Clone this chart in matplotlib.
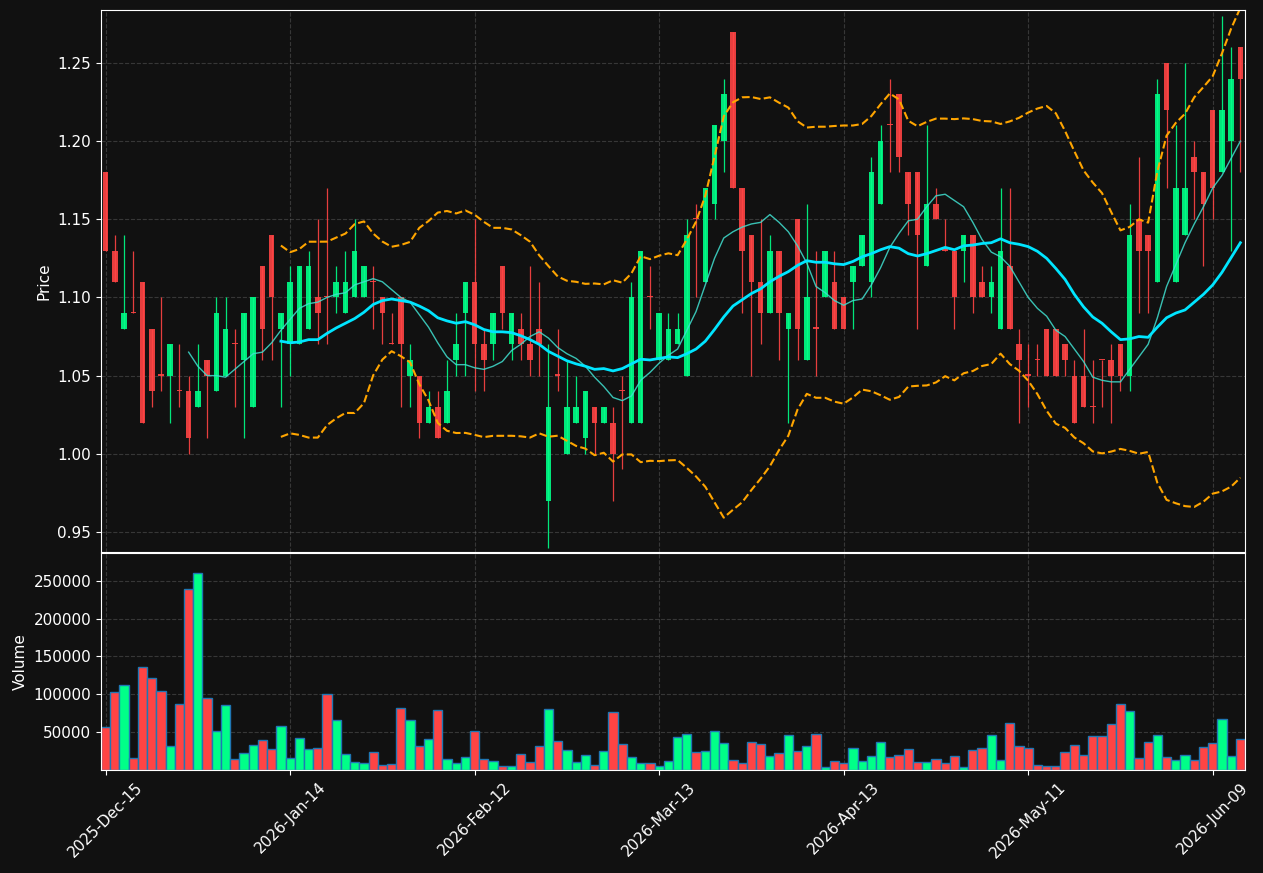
import numpy as np
import pandas as pd
import matplotlib
matplotlib.use('Agg')
import matplotlib.pyplot as plt

# OHLC (one bar per trading day)
opens = [1.18, 1.13, 1.08, 1.09, 1.11, 1.08, 1.05, 1.05, 1.04, 1.04,
         1.03, 1.06, 1.04, 1.05, 1.07, 1.06, 1.03, 1.12, 1.14, 1.08,
         1.07, 1.07, 1.08, 1.10, 1.10, 1.10, 1.09, 1.10, 1.10, 1.11,
         1.10, 1.07, 1.10, 1.05, 1.05, 1.02, 1.03, 1.02, 1.06, 1.09,
         1.11, 1.07, 1.07, 1.12, 1.07, 1.08, 1.07, 1.08, 0.97, 1.05,
         1.00, 1.02, 1.01, 1.03, 1.02, 1.02, 1.04, 1.02, 1.02, 1.10,
         1.06, 1.06, 1.07, 1.05, 1.15, 1.11, 1.16, 1.20, 1.27, 1.17,
         1.14, 1.11, 1.09, 1.13, 1.08, 1.15, 1.06, 1.08, 1.10, 1.11,
         1.10, 1.11, 1.12, 1.11, 1.16, 1.21, 1.23, 1.18, 1.18, 1.12,
         1.16, 1.13, 1.13, 1.13, 1.14, 1.11, 1.10, 1.08, 1.12, 1.07,
         1.05, 1.06, 1.08, 1.08, 1.07, 1.05, 1.05, 1.03, 1.06, 1.06,
         1.07, 1.05, 1.15, 1.14, 1.11, 1.25, 1.11, 1.14, 1.19, 1.18,
         1.22, 1.18, 1.20, 1.26]
highs = [1.18, 1.14, 1.14, 1.13, 1.11, 1.08, 1.10, 1.07, 1.07, 1.05,
         1.07, 1.06, 1.10, 1.10, 1.08, 1.09, 1.10, 1.12, 1.14, 1.09,
         1.12, 1.12, 1.13, 1.15, 1.17, 1.12, 1.13, 1.15, 1.12, 1.12,
         1.10, 1.09, 1.10, 1.07, 1.05, 1.04, 1.04, 1.06, 1.09, 1.11,
         1.15, 1.08, 1.09, 1.12, 1.09, 1.09, 1.12, 1.11, 1.07, 1.08,
         1.06, 1.05, 1.04, 1.03, 1.03, 1.03, 1.05, 1.11, 1.13, 1.12,
         1.09, 1.09, 1.09, 1.15, 1.16, 1.17, 1.21, 1.24, 1.27, 1.17,
         1.14, 1.15, 1.14, 1.13, 1.09, 1.15, 1.16, 1.13, 1.13, 1.13,
         1.10, 1.12, 1.14, 1.19, 1.21, 1.24, 1.23, 1.18, 1.18, 1.21,
         1.17, 1.15, 1.13, 1.14, 1.14, 1.12, 1.12, 1.17, 1.17, 1.08,
         1.07, 1.07, 1.08, 1.08, 1.07, 1.06, 1.08, 1.06, 1.06, 1.07,
         1.07, 1.16, 1.19, 1.14, 1.24, 1.25, 1.21, 1.25, 1.20, 1.18,
         1.22, 1.28, 1.26, 1.26]
lows = [1.13, 1.11, 1.08, 1.09, 1.02, 1.03, 1.04, 1.02, 1.03, 1.00,
        1.03, 1.01, 1.04, 1.05, 1.03, 1.01, 1.03, 1.06, 1.06, 1.03,
        1.05, 1.07, 1.08, 1.07, 1.07, 1.09, 1.09, 1.10, 1.10, 1.08,
        1.07, 1.07, 1.03, 1.03, 1.01, 1.02, 1.01, 1.02, 1.05, 1.05,
        1.04, 1.04, 1.06, 1.08, 1.06, 1.06, 1.05, 1.05, 0.94, 1.04,
        1.00, 1.02, 1.00, 1.00, 1.02, 0.97, 0.99, 1.02, 1.02, 1.08,
        1.06, 1.06, 1.07, 1.05, 1.10, 1.11, 1.15, 1.18, 1.17, 1.09,
        1.05, 1.07, 1.09, 1.06, 1.02, 1.06, 1.06, 1.05, 1.10, 1.08,
        1.08, 1.08, 1.12, 1.10, 1.16, 1.18, 1.18, 1.14, 1.08, 1.12,
        1.15, 1.13, 1.08, 1.11, 1.09, 1.10, 1.09, 1.08, 1.08, 1.02,
        1.03, 1.05, 1.05, 1.05, 1.05, 1.02, 1.03, 1.02, 1.03, 1.02,
        1.04, 1.04, 1.09, 1.09, 1.11, 1.17, 1.11, 1.14, 1.15, 1.12,
        1.15, 1.18, 1.13, 1.18]
closes = [1.13, 1.11, 1.09, 1.09, 1.02, 1.04, 1.05, 1.07, 1.04, 1.01,
          1.04, 1.05, 1.09, 1.08, 1.07, 1.09, 1.10, 1.08, 1.10, 1.09,
          1.11, 1.12, 1.12, 1.09, 1.10, 1.11, 1.11, 1.13, 1.12, 1.11,
          1.09, 1.07, 1.07, 1.06, 1.02, 1.03, 1.01, 1.04, 1.07, 1.11,
          1.07, 1.06, 1.09, 1.09, 1.09, 1.07, 1.06, 1.07, 1.03, 1.05,
          1.03, 1.03, 1.04, 1.02, 1.03, 1.00, 1.04, 1.10, 1.13, 1.10,
          1.09, 1.08, 1.08, 1.14, 1.15, 1.17, 1.21, 1.23, 1.17, 1.13,
          1.11, 1.09, 1.13, 1.09, 1.09, 1.08, 1.10, 1.08, 1.13, 1.08,
          1.08, 1.12, 1.14, 1.18, 1.20, 1.21, 1.19, 1.16, 1.14, 1.16,
          1.15, 1.13, 1.10, 1.14, 1.10, 1.10, 1.11, 1.13, 1.08, 1.06,
          1.05, 1.06, 1.05, 1.05, 1.06, 1.02, 1.03, 1.03, 1.06, 1.05,
          1.05, 1.14, 1.13, 1.13, 1.23, 1.22, 1.17, 1.17, 1.18, 1.16,
          1.17, 1.22, 1.24, 1.24]
volumes = [56600, 102600, 111800, 15800, 135500, 121000, 104000, 31600, 86800, 239500,
           260500, 94700, 51300, 85500, 14500, 22400, 32900, 39500, 27600, 57900,
           15800, 42100, 27600, 28900, 100000, 65800, 21000, 10500, 9200, 23700,
           6600, 7900, 81600, 65800, 31600, 40800, 78900, 14500, 9200, 17100,
           51300, 14500, 11800, 5300, 5300, 21000, 10500, 31600, 80300, 38200,
           26300, 10500, 19700, 6600, 25000, 76300, 34200, 17100, 9200, 9200,
           5300, 11800, 43400, 47400, 23700, 25000, 51300, 35500, 13200, 9200,
           36800, 34200, 18400, 22400, 46000, 25000, 31600, 47400, 3900, 11800,
           9200, 28900, 11800, 18400, 36800, 17100, 19700, 27600, 10500, 10500,
           14500, 9200, 18400, 3900, 26300, 28900, 46000, 13200, 61800, 31600,
           28900, 6600, 5300, 5300, 23700, 32900, 19700, 44700, 44700, 60500,
           86800, 77600, 15800, 36800, 46000, 17100, 13200, 19700, 13200, 30300,
           35500, 67100, 18400, 40800]

tick_pos = [0, 20, 40, 60, 80, 100, 120]
tick_labels = ['2025-Dec-15', '2026-Jan-14', '2026-Feb-12', '2026-Mar-13',
               '2026-Apr-13', '2026-May-11', '2026-Jun-09']

bg = '#111111'
up_col = '#00ff88'
down_col = '#ff4444'

df = pd.DataFrame({'open': opens, 'high': highs, 'low': lows,
                   'close': closes, 'volume': volumes})
x = np.arange(len(df))

# indicators
sma10 = df['close'].rolling(10).mean()
sma20 = df['close'].rolling(20).mean()
std20 = df['close'].rolling(20).std(ddof=0)
upper = sma20 + 2 * std20
lower = sma20 - 2 * std20

cols = [up_col if c > o else down_col for o, c in zip(df['open'], df['close'])]

fig = plt.figure(figsize=(12.63, 8.73), dpi=100, facecolor=bg)
ax1 = fig.add_axes([101/1263, 321/873, 1144/1263, 542/873])
ax2 = fig.add_axes([101/1263, 103/873, 1144/1263, 217/873], sharex=ax1)

for ax in (ax1, ax2):
    ax.set_facecolor(bg)
    for s in ax.spines.values():
        s.set_color('white')
    ax.tick_params(colors='white', labelsize=11)
    ax.grid(True, color='gray', alpha=0.35, linestyle='--', linewidth=0.8)
    ax.set_axisbelow(True)

# candles
ax1.vlines(x, df['low'], df['high'], colors=cols, linewidth=0.9, alpha=0.9)
body_bottom = np.minimum(df['open'], df['close'])
body_h = np.maximum(np.abs(df['close'] - df['open']), 0.0008)
ax1.bar(x, body_h, bottom=body_bottom, width=0.6, color=cols, alpha=0.9)

ax1.plot(x, sma10, color='#40e0d0', linewidth=1, alpha=0.85)
ax1.plot(x, sma20, color='#00e5ff', linewidth=2)
ax1.plot(x, upper, color='orange', linestyle='--', linewidth=1.5)
ax1.plot(x, lower, color='orange', linestyle='--', linewidth=1.5)

ax1.set_ylim(min(lows) * 0.997, max(highs) * 1.003)
ax1.set_yticks([0.95, 1.00, 1.05, 1.10, 1.15, 1.20, 1.25])
ax1.set_yticklabels(['%.2f' % v for v in [0.95, 1.00, 1.05, 1.10, 1.15, 1.20, 1.25]])
ax1.set_ylabel('Price', color='white', fontsize=11)
ax1.tick_params(axis='x', labelbottom=False, length=0)

# volume
ax2.bar(x, df['volume'], width=1.0, color=cols, edgecolor='#1f77b4', linewidth=1)
ax2.set_ylim(0, max(volumes) * 1.1)
ax2.set_yticks([50000, 100000, 150000, 200000, 250000])
ax2.set_ylabel('Volume', color='white', fontsize=11)

ax2.set_xlim(-0.5, len(df) - 0.5)
ax2.set_xticks(tick_pos)
ax2.set_xticklabels(tick_labels, rotation=45)

fig.savefig('out.png', dpi=100, facecolor=bg)
